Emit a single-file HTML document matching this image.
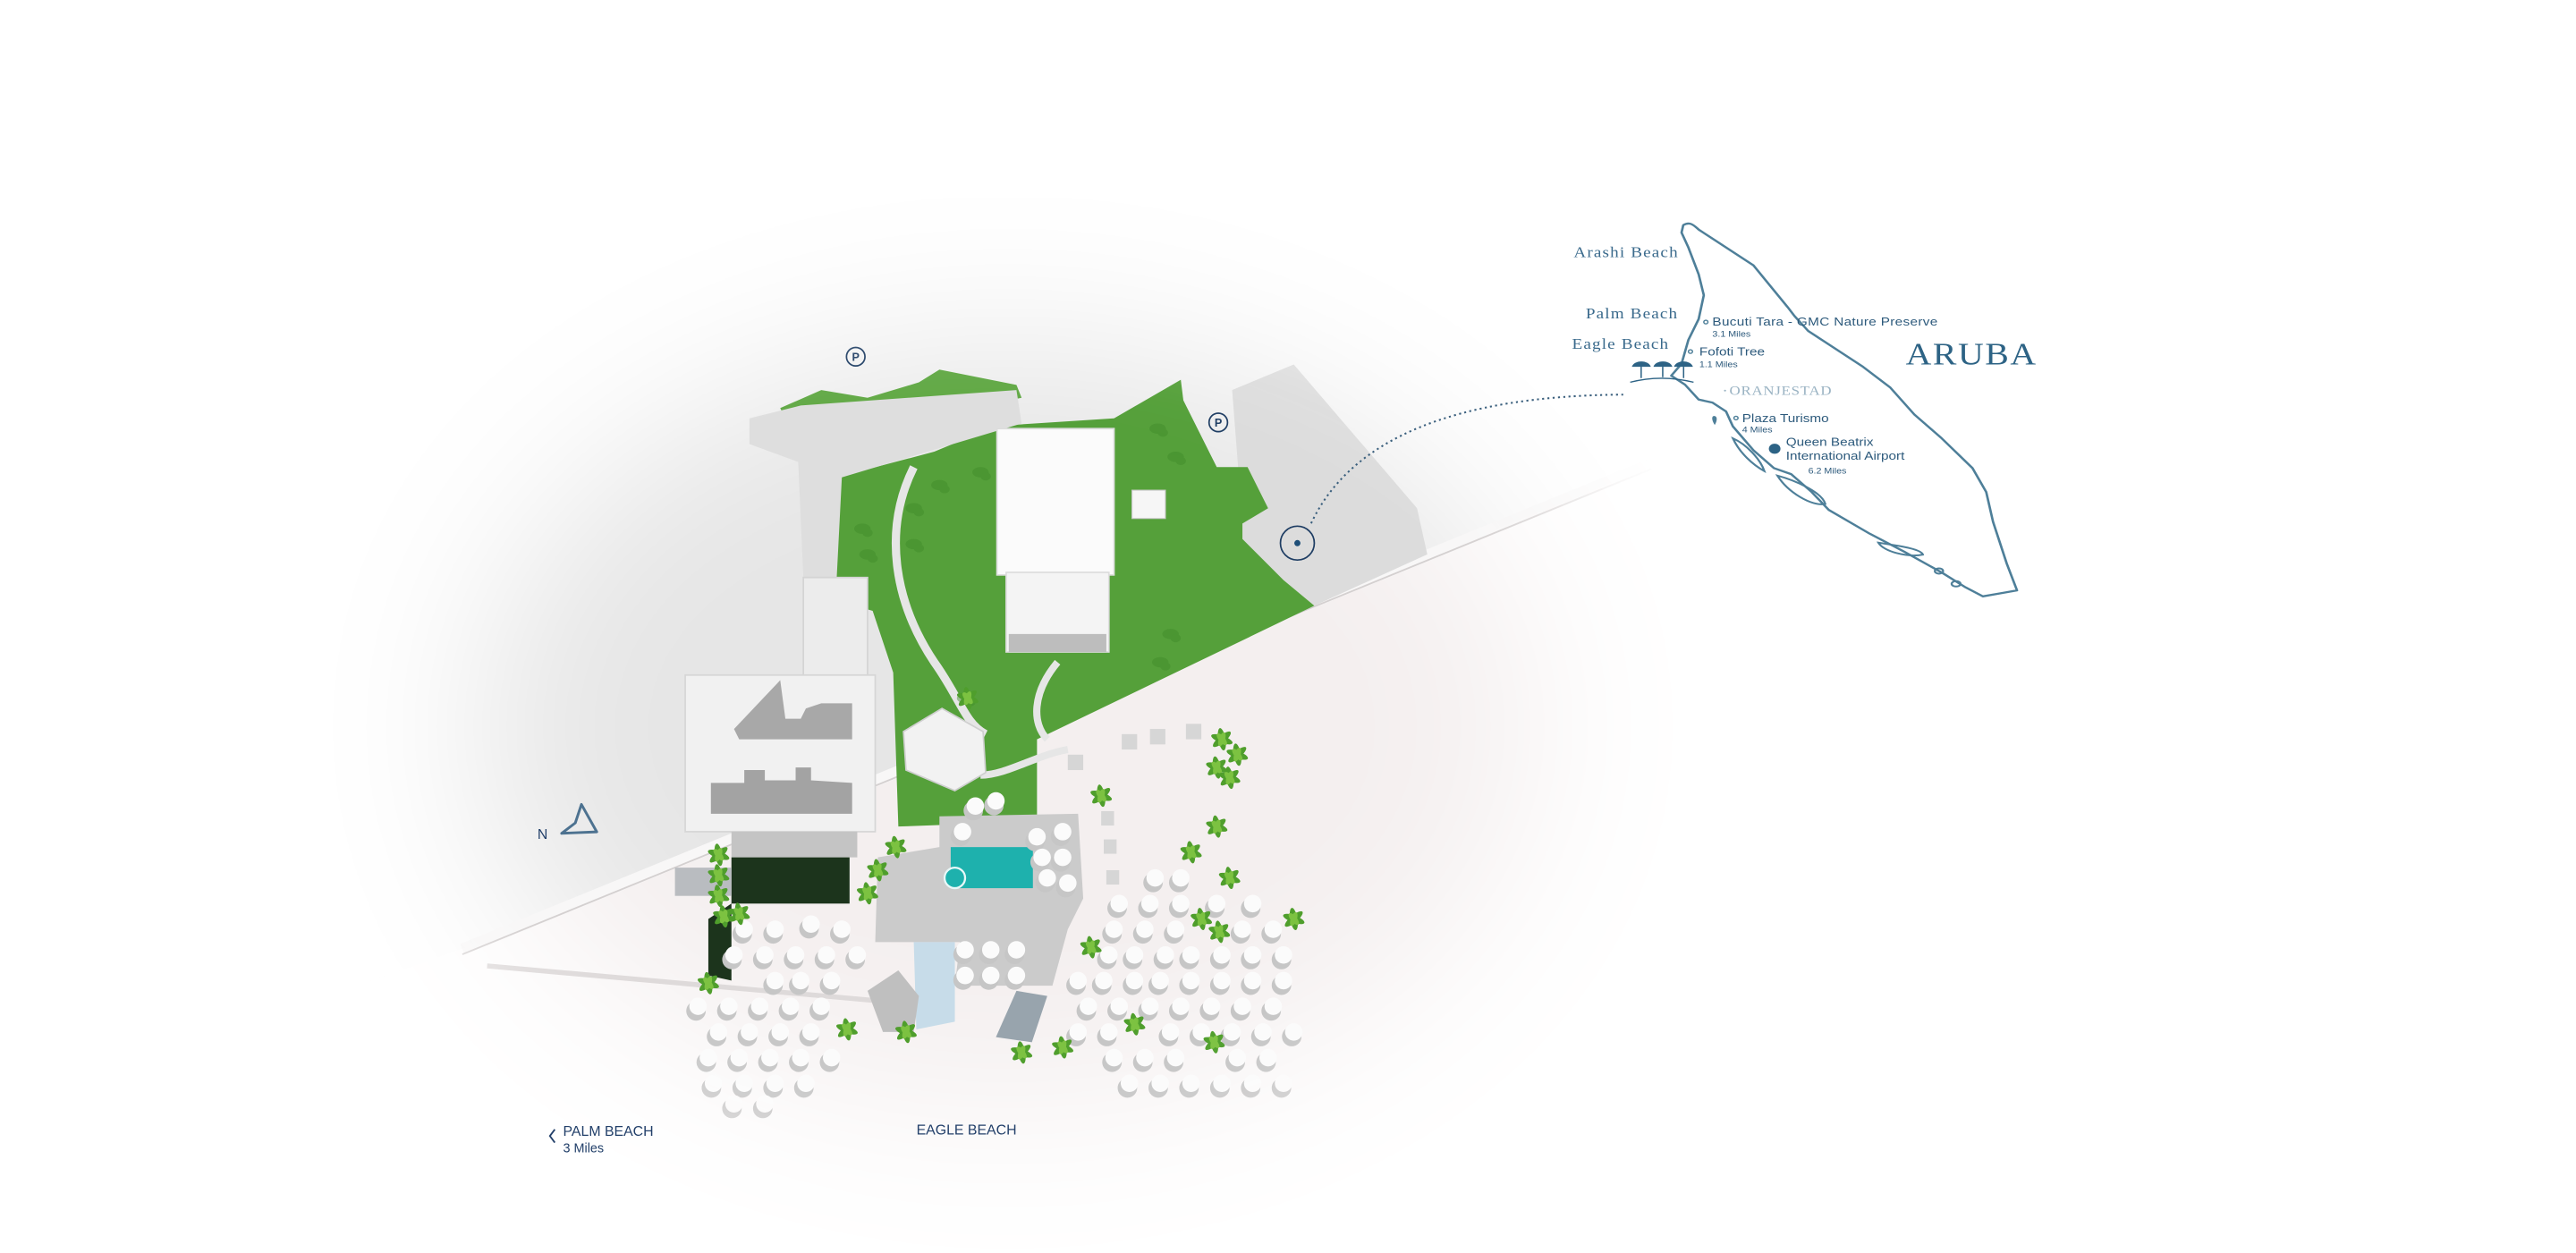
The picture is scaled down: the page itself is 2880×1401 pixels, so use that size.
<!DOCTYPE html>
<html><head><meta charset="utf-8"><style>
html,body{margin:0;padding:0;background:#fff;width:2880px;height:1401px;overflow:hidden}
svg{display:block}
</style></head><body>
<svg width="2880" height="1401" viewBox="0 0 1560 758.875" xmlns="http://www.w3.org/2000/svg">
<defs>
<filter id="b1" x="-50%" y="-50%" width="200%" height="200%"><feGaussianBlur stdDeviation="50"/></filter>
<filter id="b2" x="-50%" y="-50%" width="200%" height="200%"><feGaussianBlur stdDeviation="35"/></filter>
<mask id="m1" maskUnits="userSpaceOnUse" x="0" y="0" width="1560" height="760"><ellipse cx="610" cy="440" rx="320" ry="230" fill="#fff" filter="url(#b1)"/></mask>
<mask id="m2" maskUnits="userSpaceOnUse" x="0" y="0" width="1560" height="760"><ellipse cx="600" cy="440" rx="400" ry="280" fill="#fff" filter="url(#b2)"/></mask>
<g id="u"><circle cx="-4" cy="9" r="19" fill="#c6c6c6"/><circle r="17" fill="#fbfbfb"/></g>
<g id="p" fill="#4f9e2c"><ellipse rx="22" ry="7" transform="rotate(20)"/><ellipse rx="22" ry="7" transform="rotate(80)"/><ellipse rx="22" ry="7" transform="rotate(140)"/><ellipse rx="14" ry="6" fill="#7cc241" transform="rotate(50)"/><ellipse rx="14" ry="6" fill="#7cc241" transform="rotate(110)"/></g>
<g id="bu" fill="#3f8a2a" opacity=".45"><ellipse rx="16" ry="10"/><ellipse cx="10" cy="8" rx="10" ry="8"/></g>
</defs>

<g mask="url(#m1)">
<polygon points="150,120 1050,120 1050,262 285,573 150,620" fill="#e6e6e6"/>
<polygon points="150,620 285,573 1050,262 1100,240 1100,780 150,780" fill="#f4efef"/>
</g>

<g mask="url(#m2)">
<line x1="280" y1="575" x2="1000" y2="281" stroke="#f8f7f7" stroke-width="7"/>
<line x1="280" y1="578" x2="1000" y2="284" stroke="#d4d0d0" stroke-width="1"/>
<line x1="295" y1="585" x2="530" y2="606" stroke="#dedada" stroke-width="3"/>
<g transform="translate(379.2,189.6) scale(0.311)">
<polygon points="1180,150 1300,100 1540,380 1560,470 1340,570 1280,520 1200,440 1200,410" fill="#dcdcdc"/>
<polygon points="410,320 600,270 720,220 950,205 1080,130 1085,170 1150,300 1210,300 1250,380 1200,410 1200,440 1280,520 1340,570 800,830 800,990 530,1000 520,700 480,580 410,560" fill="#55a03a"/>
<polygon points="300,185 380,150 470,165 570,135 610,110 760,140 770,165 600,200 420,280 330,250" fill="#62a946"/>
<path d="M560,300 C500,420 520,560 600,680 C650,750 660,800 700,820" stroke="#e6e6e6" stroke-width="16" fill="none"/>
<path d="M840,680 C790,740 790,800 820,830" stroke="#e6e6e6" stroke-width="14" fill="none"/>
<path d="M690,900 C740,900 800,860 860,850" stroke="#e6e6e6" stroke-width="14" fill="none"/>
<polygon points="240,205 340,180 760,150 770,215 420,320 410,515 345,515 335,290 240,255" fill="#dedede"/>
<use href="#bu" x="690" y="310"/><use href="#bu" x="610" y="335"/><use href="#bu" x="560" y="380"/><use href="#bu" x="460" y="420"/><use href="#bu" x="560" y="450"/><use href="#bu" x="470" y="470"/><use href="#bu" x="1035" y="225"/><use href="#bu" x="1070" y="280"/><use href="#bu" x="1060" y="625"/><use href="#bu" x="1040" y="680"/><use href="#bu" x="660" y="750"/>
<rect x="722" y="225" width="228" height="285" fill="#fbfbfb" stroke="#ddd" stroke-width="3"/>
<rect x="740" y="505" width="200" height="155" fill="#f4f4f4" stroke="#ddd" stroke-width="3"/>
<rect x="745" y="625" width="190" height="35" fill="#bdbdbd"/>
<rect x="985" y="345" width="65" height="55" fill="#f6f6f6" stroke="#ccc" stroke-width="2"/>
<rect x="345" y="515" width="125" height="190" fill="#ececec" stroke="#d4d4d4" stroke-width="3"/>
<rect x="115" y="705" width="370" height="305" fill="#f1f1f1" stroke="#d6d6d6" stroke-width="3"/>
<polygon points="210,810 300,715 310,790 340,790 350,770 380,760 440,760 440,830 220,830" fill="#a8a8a8"/>
<polygon points="165,915 230,915 230,890 270,890 270,910 330,910 330,885 360,885 360,910 440,915 440,975 165,975" fill="#a3a3a3"/>
<rect x="205" y="1010" width="245" height="50" fill="#c4c4c4"/>
<rect x="205" y="1060" width="230" height="90" fill="#1c341c"/>
<polygon points="160,1180 205,1150 205,1300 160,1290" fill="#1c341c"/>
<rect x="95" y="1080" width="110" height="55" fill="#b9bcc0"/>
<polygon points="615,770 695,815 700,895 640,930 545,890 540,815" fill="#f2f2f2" stroke="#cfcfcf" stroke-width="3"/>
<polygon points="610,980 880,975 890,1140 860,1200 830,1310 640,1310 650,1225 485,1225 490,1060 610,1040" fill="#cbcbcb"/>
<rect x="632" y="1040" width="160" height="80" fill="#1eb1ad"/>
<circle cx="640" cy="1100" r="20" fill="#1eb1ad" stroke="#e8f8f8" stroke-width="4"/>
<polygon points="560,1225 640,1225 640,1380 565,1395" fill="#c7dce9"/>
<polygon points="470,1320 530,1280 570,1330 560,1400 500,1400" fill="#bfbfbf"/>
<polygon points="720,1410 760,1320 820,1330 790,1420" fill="#98a4ad"/>
<use href="#u" x="230" y="1200"/><use href="#u" x="290" y="1200"/><use href="#u" x="360" y="1190"/><use href="#u" x="420" y="1200"/>
<use href="#u" x="210" y="1250"/><use href="#u" x="270" y="1250"/><use href="#u" x="330" y="1250"/><use href="#u" x="390" y="1250"/><use href="#u" x="450" y="1250"/>
<use href="#u" x="290" y="1300"/><use href="#u" x="340" y="1300"/><use href="#u" x="400" y="1300"/>
<use href="#u" x="140" y="1350"/><use href="#u" x="200" y="1350"/><use href="#u" x="260" y="1350"/><use href="#u" x="320" y="1350"/><use href="#u" x="380" y="1350"/>
<use href="#u" x="180" y="1400"/><use href="#u" x="240" y="1400"/><use href="#u" x="300" y="1400"/><use href="#u" x="360" y="1400"/>
<use href="#u" x="160" y="1450"/><use href="#u" x="220" y="1450"/><use href="#u" x="280" y="1450"/><use href="#u" x="340" y="1450"/><use href="#u" x="400" y="1450"/>
<use href="#u" x="170" y="1500"/><use href="#u" x="230" y="1500"/><use href="#u" x="290" y="1500"/><use href="#u" x="350" y="1500"/>
<use href="#u" x="210" y="1540"/><use href="#u" x="270" y="1540"/>
<use href="#u" x="655" y="1010"/><use href="#u" x="800" y="1020"/><use href="#u" x="850" y="1010"/><use href="#u" x="810" y="1060"/><use href="#u" x="850" y="1060"/><use href="#u" x="820" y="1100"/><use href="#u" x="860" y="1110"/>
<use href="#u" x="660" y="1240"/><use href="#u" x="710" y="1240"/><use href="#u" x="760" y="1240"/><use href="#u" x="660" y="1290"/><use href="#u" x="710" y="1290"/><use href="#u" x="760" y="1290"/>
<use href="#u" x="680" y="960"/><use href="#u" x="720" y="950"/>
<use href="#u" x="1030" y="1100"/><use href="#u" x="1080" y="1100"/>
<use href="#u" x="960" y="1150"/><use href="#u" x="1020" y="1150"/><use href="#u" x="1080" y="1150"/><use href="#u" x="1150" y="1150"/><use href="#u" x="1220" y="1150"/>
<use href="#u" x="950" y="1200"/><use href="#u" x="1010" y="1200"/><use href="#u" x="1070" y="1200"/><use href="#u" x="1200" y="1200"/><use href="#u" x="1260" y="1200"/>
<use href="#u" x="940" y="1250"/><use href="#u" x="990" y="1250"/><use href="#u" x="1050" y="1250"/><use href="#u" x="1100" y="1250"/><use href="#u" x="1160" y="1250"/><use href="#u" x="1220" y="1250"/><use href="#u" x="1280" y="1250"/>
<use href="#u" x="880" y="1300"/><use href="#u" x="930" y="1300"/><use href="#u" x="990" y="1300"/><use href="#u" x="1040" y="1300"/><use href="#u" x="1100" y="1300"/><use href="#u" x="1160" y="1300"/><use href="#u" x="1220" y="1300"/><use href="#u" x="1280" y="1300"/>
<use href="#u" x="900" y="1350"/><use href="#u" x="960" y="1350"/><use href="#u" x="1020" y="1350"/><use href="#u" x="1080" y="1350"/><use href="#u" x="1140" y="1350"/><use href="#u" x="1200" y="1350"/><use href="#u" x="1260" y="1350"/>
<use href="#u" x="880" y="1400"/><use href="#u" x="940" y="1400"/><use href="#u" x="1060" y="1400"/><use href="#u" x="1120" y="1400"/><use href="#u" x="1180" y="1400"/><use href="#u" x="1240" y="1400"/><use href="#u" x="1300" y="1400"/>
<use href="#u" x="950" y="1450"/><use href="#u" x="1010" y="1450"/><use href="#u" x="1070" y="1450"/><use href="#u" x="1190" y="1450"/><use href="#u" x="1250" y="1450"/>
<use href="#u" x="980" y="1500"/><use href="#u" x="1040" y="1500"/><use href="#u" x="1100" y="1500"/><use href="#u" x="1160" y="1500"/><use href="#u" x="1220" y="1500"/><use href="#u" x="1280" y="1500"/>
<g fill="#d6d6d6"><rect x="965" y="820" width="30" height="30"/><rect x="1020" y="810" width="30" height="30"/><rect x="1090" y="800" width="30" height="30"/><rect x="860" y="860" width="30" height="30"/><rect x="925" y="970" width="25" height="28"/><rect x="930" y="1025" width="25" height="28"/><rect x="935" y="1085" width="25" height="28"/></g>
<use href="#p" x="925" y="940"/><use href="#p" x="1160" y="830"/><use href="#p" x="1190" y="860"/><use href="#p" x="1150" y="885"/><use href="#p" x="1175" y="905"/><use href="#p" x="1150" y="1000"/><use href="#p" x="1100" y="1050"/><use href="#p" x="1175" y="1100"/><use href="#p" x="1120" y="1180"/><use href="#p" x="1155" y="1205"/><use href="#p" x="1300" y="1180"/><use href="#p" x="905" y="1235"/><use href="#p" x="990" y="1385"/><use href="#p" x="1145" y="1420"/><use href="#p" x="850" y="1430"/><use href="#p" x="770" y="1440"/><use href="#p" x="430" y="1395"/><use href="#p" x="545" y="1400"/><use href="#p" x="160" y="1305"/><use href="#p" x="180" y="1055"/><use href="#p" x="180" y="1095"/><use href="#p" x="180" y="1135"/><use href="#p" x="190" y="1175"/><use href="#p" x="220" y="1170"/><use href="#p" x="490" y="1085"/><use href="#p" x="525" y="1040"/><use href="#p" x="470" y="1130"/><use href="#p" x="665" y="750"/>
<g fill="none" stroke="#1e3d63" stroke-width="3"><circle cx="447" cy="85" r="18"/><circle cx="1153" cy="213" r="18"/><circle cx="1307" cy="448" r="33"/></g>
<g font-family="Liberation Sans, sans-serif" font-size="22" fill="#1e3d63" text-anchor="middle" font-weight="bold"><text x="447" y="93">P</text><text x="1153" y="221">P</text></g>
<circle cx="1307" cy="448" r="6" fill="#1e4f78"/>
</g>
</g>

<path d="M794,317 Q830,240 983,239" fill="none" stroke="#3a5f7d" stroke-width="1.1" stroke-dasharray="1.2 2"/>

<g font-family="Liberation Sans, sans-serif" fill="#23406a">
<text x="341" y="688" font-size="8.6">PALM BEACH</text>
<text x="341" y="698" font-size="7.8">3 Miles</text>
<text x="555" y="687" font-size="8.6">EAGLE BEACH</text>
<text x="325.5" y="508" font-size="8.6">N</text>
</g>
<path d="M336,684 L333,688 L336,692" fill="none" stroke="#23406a" stroke-width="1"/>
<polygon points="352.1,487.2 361.4,503.8 340.1,504.7 348.4,498.4" fill="none" stroke="#4d7290" stroke-width="1.6" stroke-linejoin="round"/>

<g transform="translate(920.9,124.6) scale(0.2073,0.1806)">
<path d="M475,65 C490,55 500,58 520,80 L560,110 L680,200 L780,340 L800,370 L840,420 L1000,540 L1080,610 L1150,700 L1230,780 L1320,880 L1360,960 L1380,1060 L1420,1200 L1450,1290 L1400,1300 L1350,1310 L1300,1280 L1230,1230 L1120,1160 L1020,1100 L900,1020 L850,960 L790,900 L740,880 L680,820 L620,740 L600,690 L560,660 L520,650 L480,600 L440,570 L470,530 L490,450 L520,380 L535,300 L520,230 L490,140 L470,90 Z" fill="none" stroke="#4e7f99" stroke-width="7" stroke-linejoin="round"/>
<g fill="none" stroke="#4e7f99" stroke-width="6">
<path d="M620,780 C660,800 700,850 712,890 C680,870 640,830 620,780 Z"/>
<path d="M750,905 C800,920 880,960 890,1000 C850,1010 780,960 750,905 Z"/>
<path d="M1045,1130 C1100,1140 1170,1150 1175,1170 C1130,1180 1060,1160 1045,1130 Z"/>
<ellipse cx="1222" cy="1225" rx="12" ry="9"/><ellipse cx="1272" cy="1268" rx="13" ry="9"/>
</g>
<path d="M565,705 C575,705 575,720 567,735 C558,720 557,705 565,705 Z" fill="#4e7f99"/>
<g fill="#2d6385">
<path d="M325,540 A28,22 0 0 1 380,540 Z"/><path d="M388,540 A28,22 0 0 1 443,540 Z"/><path d="M448,540 A28,22 0 0 1 503,540 Z"/>
</g>
<g stroke="#2d6385" stroke-width="4" fill="none"><line x1="352" y1="540" x2="352" y2="578"/><line x1="415" y1="540" x2="415" y2="575"/><line x1="476" y1="540" x2="476" y2="578"/><path d="M320,592 Q410,565 505,592"/></g>
<g fill="#4e7f99"><circle cx="541" cy="390" r="6" fill="none" stroke="#4e7f99" stroke-width="4"/><circle cx="496" cy="489" r="6" fill="none" stroke="#4e7f99" stroke-width="4"/><circle cx="629" cy="712" r="6" fill="none" stroke="#4e7f99" stroke-width="4"/><circle cx="742" cy="815" r="17" fill="#2d6385"/><circle cx="597" cy="620" r="3" fill="#9ab3c3"/></g>
<g font-family="Liberation Serif, serif" fill="#3a6a8c">
<text x="155" y="172" font-size="50" letter-spacing="3">Arashi Beach</text>
<text x="190" y="378" font-size="50" letter-spacing="3">Palm Beach</text>
<text x="150" y="480" font-size="50" letter-spacing="3">Eagle Beach</text>
<text x="610" y="635" font-size="44" fill="#9ab3c3" letter-spacing="2">ORANJESTAD</text>
<text x="1125" y="532" font-size="104" fill="#2d6385" letter-spacing="4">ARUBA</text>
</g>
<g font-family="Liberation Sans, sans-serif" fill="#2d5a7c">
<text x="560" y="402" font-size="40" textLength="658">Bucuti Tara - GMC Nature Preserve</text>
<text x="560" y="440" font-size="28">3.1 Miles</text>
<text x="522" y="503" font-size="40">Fofoti Tree</text>
<text x="522" y="542" font-size="28">1.1 Miles</text>
<text x="647" y="725" font-size="40">Plaza Turismo</text>
<text x="647" y="760" font-size="28">4 Miles</text>
<text x="775" y="806" font-size="40">Queen Beatrix</text>
<text x="775" y="852" font-size="40">International Airport</text>
<text x="840" y="898" font-size="28">6.2 Miles</text>
</g>
</g>
</svg>
</body></html>
